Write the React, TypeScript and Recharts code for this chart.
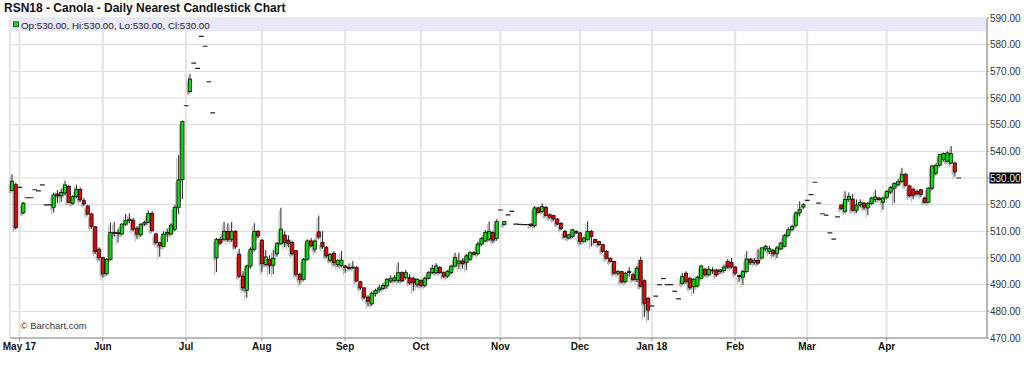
import React from 'react';
import { ComposedChart, Bar, XAxis, YAxis, CartesianGrid, ReferenceArea } from 'recharts';

const FONT = '"Liberation Sans", Arial, Helvetica, sans-serif';
const GREEN = '#00e400';
const RED = '#ee0000';

// Daily candles (trading-day slots), Apr 27 2017 .. Apr 27 2018
const opens = [
  525.3,527.5,526.5,516.9,522.6,522.6,525.6,525.2,527.4,519.9,
  519.9,519.0,524.0,523.3,524.4,526.8,520.5,523.0,525.7,521.5,
  519.5,516.5,511.7,503.3,500.1,494.1,499.5,509.6,509.2,509.0,
  512.7,514.0,514.2,511.1,508.7,512.7,513.3,516.7,509.0,505.8,
  504.3,509.0,509.0,510.8,519.0,529.4,557.1,562.4,573.1,571.1,
  583.1,579.4,566.1,554.4,500.1,507.0,507.0,510.0,507.0,510.0,
  501.4,493.2,487.9,497.0,503.3,510.0,506.7,497.6,499.5,497.3,
  501.6,505.4,508.6,506.7,505.8,502.7,493.9,492.0,499.5,506.4,
  503.3,509.8,505.8,503.9,499.2,501.8,497.6,497.2,497.0,496.5,
  496.2,496.4,491.1,488.8,485.3,482.8,486.7,488.1,488.6,489.5,
  491.4,491.6,491.6,494.5,492.6,492.6,492.4,490.1,491.6,489.7,
  492.4,494.5,494.5,496.4,494.5,493.2,494.5,497.0,497.9,498.9,
  498.3,499.5,502.0,501.6,505.2,506.4,507.1,509.6,507.3,518.0,
  512.5,516.2,517.5,512.7,512.6,512.5,512.5,512.7,512.1,518.8,
  517.5,519.0,516.2,515.9,514.6,513.0,510.0,507.5,508.1,510.0,
  509.4,506.2,506.9,510.0,506.9,506.2,505.0,502.5,499.9,498.7,
  494.3,494.9,491.1,494.9,493.7,492.0,499.1,491.5,484.9,482.0,
  485.7,490.0,492.3,490.0,490.0,487.5,484.7,490.5,494.3,492.4,
  489.3,489.5,492.4,495.8,493.7,495.5,495.5,494.9,495.3,498.7,
  498.3,496.6,493.4,492.8,494.9,499.6,498.3,499.1,500.0,503.4,
  502.5,502.9,501.6,503.4,504.4,508.4,510.6,512.3,516.9,519.1,
  521.6,523.8,528.4,520.6,516.6,516.1,509.4,507.1,515.4,519.9,
  517.5,521.9,522.1,517.9,519.9,520.6,518.8,520.4,521.9,522.5,
  520.9,522.7,524.7,526.2,527.4,528.6,531.4,527.0,525.8,525.0,
  525.6,522.5,520.9,526.2,531.8,534.8,537.0,536.3,535.6,535.6,
  530.0,
];

const highs = [
  531.3,528.3,526.5,521.0,522.6,522.6,525.6,525.2,527.4,519.9,
  519.9,524.6,525.5,526.0,529.0,527.5,523.5,527.5,526.5,522.5,
  520.0,517.0,512.0,504.0,500.5,500.0,513.3,513.5,511.0,513.0,
  516.5,516.8,515.0,512.0,513.0,514.0,517.8,517.5,509.5,506.0,
  510.0,511.0,513.0,520.0,538.5,551.6,557.1,569.0,573.1,571.1,
  583.1,579.4,566.1,554.4,507.5,508.0,513.6,513.0,513.5,510.5,
  503.5,495.0,497.5,504.0,513.0,510.5,507.0,503.0,501.0,503.0,
  506.0,518.8,510.0,508.5,506.5,503.0,494.5,500.0,507.0,507.5,
  507.0,515.9,510.0,504.5,502.0,502.5,499.5,502.6,497.5,498.0,
  498.9,497.0,491.5,489.0,486.0,487.5,488.5,490.0,490.5,492.5,
  493.5,493.5,498.3,495.0,495.5,494.0,493.0,492.5,492.0,493.0,
  495.0,497.5,498.0,497.0,495.0,495.5,497.5,502.0,502.0,500.0,
  501.5,502.5,502.5,506.0,508.0,510.5,513.7,510.0,514.5,518.0,
  513.9,516.2,517.5,512.7,512.6,512.5,512.5,512.9,519.5,519.2,
  520.5,519.5,516.8,516.2,515.0,513.5,510.5,509.0,511.0,510.4,
  509.8,508.0,513.8,510.5,507.3,506.5,505.3,503.0,500.3,499.0,
  495.5,495.2,494.8,496.5,494.5,497.0,500.5,492.0,485.5,482.0,
  485.7,490.0,492.3,490.0,490.0,487.5,484.7,494.5,495.0,493.0,
  492.5,493.3,497.5,496.3,497.0,496.5,496.0,496.0,497.5,499.5,
  500.0,497.0,493.6,495.5,502.5,500.0,500.0,503.5,504.0,505.0,
  504.5,503.5,504.5,506.0,509.0,511.5,512.5,517.5,521.3,520.5,
  521.6,523.8,528.4,520.6,516.6,516.1,509.4,507.1,515.4,520.0,
  525.0,524.6,524.0,521.9,522.0,521.0,521.0,523.0,525.6,523.0,
  523.0,525.5,527.0,528.5,529.5,533.8,532.0,527.5,526.3,525.6,
  526.0,523.0,526.5,535.0,535.5,539.0,539.6,540.0,542.0,536.0,
  530.0,
];

const lows = [
  525.0,510.8,526.5,516.5,522.6,522.6,525.6,525.2,527.4,519.9,
  519.9,517.1,520.5,521.0,523.5,520.5,520.0,522.5,521.0,519.5,
  516.0,511.0,501.5,499.0,492.6,493.5,499.0,508.0,505.8,508.5,
  512.0,513.0,510.0,507.0,508.0,512.0,513.0,510.0,505.0,500.5,
  504.0,506.0,508.5,510.0,516.5,522.0,557.1,562.0,573.1,571.1,
  583.1,579.4,566.1,554.4,494.7,505.0,506.5,506.0,506.0,503.5,
  492.5,487.5,485.1,496.0,502.5,507.5,494.7,497.0,494.0,494.0,
  500.5,505.0,504.0,504.0,501.0,493.0,490.1,491.5,499.0,504.0,
  502.0,507.0,503.5,500.0,498.5,497.0,496.5,496.5,494.5,495.5,
  495.8,491.0,488.0,484.5,481.9,482.0,485.5,487.0,488.0,488.5,
  490.5,491.0,490.7,491.0,492.0,490.0,487.6,489.0,489.0,489.0,
  492.0,494.0,494.0,494.0,492.5,492.5,494.0,496.5,495.8,496.0,
  495.5,499.0,501.0,501.0,504.5,506.0,506.5,505.5,506.5,518.0,
  512.3,516.2,517.5,512.7,512.6,512.5,512.5,511.8,511.5,516.8,
  517.0,515.5,514.8,514.0,512.3,510.5,507.5,507.0,507.5,509.0,
  505.0,505.8,506.5,504.3,505.5,504.5,502.0,499.5,498.2,493.8,
  493.5,490.5,490.5,493.0,491.5,491.0,489.0,478.0,476.7,482.0,
  485.7,490.0,492.3,490.0,490.0,487.5,484.7,490.0,490.5,488.0,
  486.7,489.0,492.0,493.2,493.2,494.0,493.0,494.0,494.5,496.0,
  496.0,493.5,491.0,490.0,494.5,497.5,497.5,497.5,499.5,502.5,
  501.5,500.5,500.0,503.0,504.0,508.0,510.0,511.5,515.6,518.5,
  521.6,523.8,528.4,520.6,516.6,516.1,509.4,507.1,515.4,518.0,
  517.0,521.0,517.5,516.9,519.0,518.0,516.0,520.0,521.0,521.5,
  518.1,522.0,524.0,520.6,527.0,528.3,526.8,522.8,522.0,523.5,
  523.0,520.5,520.5,525.5,531.0,534.2,536.2,535.8,535.2,530.5,
  530.0,
];

const closes = [
  528.8,511.4,526.5,520.6,522.6,522.6,525.6,525.2,527.4,519.9,
  519.9,523.7,523.3,524.6,527.4,520.9,523.0,525.8,521.8,520.3,
  516.5,511.8,502.4,500.1,494.1,499.5,509.6,509.2,509.5,512.7,
  514.0,514.6,510.8,509.0,512.7,513.3,516.7,510.2,505.8,504.6,
  509.0,509.6,512.3,519.0,529.3,551.2,557.1,567.1,573.1,571.1,
  583.1,579.4,566.1,554.4,507.0,505.6,510.0,507.0,510.0,504.2,
  493.2,488.8,497.0,503.3,510.0,508.3,497.9,500.4,497.3,499.9,
  505.4,510.8,505.8,505.4,501.6,493.9,492.0,499.5,506.4,504.6,
  506.4,507.9,504.2,500.8,501.4,498.3,499.0,499.2,496.4,496.1,
  496.6,491.4,488.8,485.3,483.8,486.8,487.9,488.8,489.7,492.0,
  492.3,492.6,494.5,491.4,494.5,490.7,490.7,492.0,489.7,492.4,
  494.5,496.1,497.0,494.5,493.2,495.0,497.0,500.1,498.9,497.9,
  500.8,502.0,501.4,505.2,507.3,509.6,510.0,506.7,513.7,518.0,
  513.7,516.2,517.5,512.7,512.6,512.5,512.5,512.1,518.8,517.1,
  519.25,515.9,515.2,514.6,512.7,511.0,507.9,508.7,510.6,509.4,
  506.2,507.5,510.0,508.1,505.9,505.0,502.5,499.9,498.7,494.3,
  494.9,491.1,494.3,494.8,492.0,496.2,489.3,483.0,480.5,482.0,
  485.7,490.0,492.3,490.0,490.0,487.5,484.7,493.0,491.1,489.0,
  492.0,492.8,497.0,493.7,495.8,495.2,493.7,495.5,496.6,496.6,
  496.6,494.3,493.2,494.9,499.6,498.3,499.1,498.1,503.8,504.4,
  503.5,501.6,503.8,505.6,508.4,510.6,511.9,516.9,518.1,520.0,
  521.6,523.8,528.4,520.6,516.6,516.1,509.4,507.1,515.4,518.6,
  521.9,523.1,517.9,519.9,520.9,519.1,520.4,522.5,522.9,521.9,
  522.5,524.9,526.4,528.0,528.6,531.4,527.2,523.4,523.6,524.1,
  523.8,520.9,526.2,534.5,534.7,538.9,539.2,539.4,539.1,532.3,
  530.0,
];

// x axis: slot index of first trading day of each month, and its label
const monthTickIndex = [2, 24, 46, 66, 88, 108, 129, 150, 169, 191, 210, 231];
const monthTickLabels = ['May 17', 'Jun', 'Jul', 'Aug', 'Sep', 'Oct', 'Nov', 'Dec', 'Jan 18', 'Feb', 'Mar', 'Apr'];
const priceTicks = [470, 480, 490, 500, 510, 520, 530, 540, 550, 560, 570, 580, 590];
const SLOT_COUNT = 258;

const chartData = Array.from({ length: SLOT_COUNT }, (_, i) => {
  if (i >= closes.length) return { i };
  const high = highs[i];
  const low = lows[i];
  return {
    i,
    open: opens[i],
    high,
    low,
    close: closes[i],
    range: [low, high > low ? high : high + 0.05],
  };
});

const geom = (props: any) => {
  const { x, y, width, height, payload } = props;
  if (!payload || payload.close == null || !payload.range) return null;
  const [rl, rh] = payload.range;
  const top = Math.min(y, y + height);
  const h = Math.abs(height);
  const py = (v: number) => top + ((rh - v) / (rh - rl)) * h;
  return { cx: x + width / 2, py, p: payload };
};

const BODY_W = 3.2;
const SH_DX = -1.8;
const SH_DY = 2.5;

const ShadowShape = (props: any) => {
  const g = geom(props);
  if (!g) return null;
  const { cx, py, p } = g;
  if (p.high === p.low) return null;
  const bt = py(Math.max(p.open, p.close));
  const bb = py(Math.min(p.open, p.close));
  return (
    <g>
      <line x1={cx + SH_DX} x2={cx + SH_DX} y1={py(p.high) + SH_DY} y2={py(p.low) + SH_DY} stroke="#b4b4b4" strokeWidth={1} />
      <rect x={cx - BODY_W / 2 + SH_DX} y={bt + SH_DY} width={BODY_W} height={Math.max(bb - bt, 1)} fill="#b4b4b4" />
    </g>
  );
};

const CandleShape = (props: any) => {
  const g = geom(props);
  if (!g) return null;
  const { cx, py, p } = g;
  if (p.high === p.low) {
    const yy = py(p.close);
    return <line x1={cx - 2.4} x2={cx + 2.4} y1={yy} y2={yy} stroke="#222" strokeWidth={1.2} />;
  }
  const up = p.close >= p.open;
  const bt = py(Math.max(p.open, p.close));
  const bb = py(Math.min(p.open, p.close));
  return (
    <g>
      <line x1={cx} x2={cx} y1={py(p.high)} y2={py(p.low)} stroke="#333" strokeWidth={1.1} />
      <rect x={cx - BODY_W / 2} y={bt} width={BODY_W} height={Math.max(bb - bt, 1)} fill={up ? GREEN : RED} stroke="#111" strokeWidth={0.8} />
    </g>
  );
};

const lastClose = closes[closes.length - 1];

const PriceTick = (props: any) => {
  const { x, y, payload } = props;
  const v = payload.value as number;
  const isLast = v === lastClose;
  return (
    <g>
      {isLast && <rect x={x - 0.5} y={y - 5.5} width={31.5} height={11} fill="#000" />}
      <text x={x} y={y} dy="0.36em" fontSize={10} fontFamily={FONT} fill={isLast ? '#e0f4ff' : '#333'}>
        {v.toFixed(2)}
      </text>
    </g>
  );
};

export default function App() {
  return (
    <div style={{ position: 'absolute', left: 0, top: 0, width: 1024, height: 375, background: '#fff', fontFamily: FONT }}>
      <ComposedChart
        width={1024}
        height={375}
        data={chartData}
        margin={{ top: 18, right: 0, bottom: 0, left: 10 }}
        barCategoryGap={0}
      >
        <CartesianGrid horizontal vertical={false} stroke="#dadada" />
        <CartesianGrid horizontal={false} vertical stroke="#e4e4e4" strokeWidth={2} />
        <ReferenceArea y1={585} y2={590} fill="#e8e8f8" fillOpacity={1} strokeOpacity={0} />
        <XAxis
          dataKey="i"
          type="category"
          ticks={monthTickIndex}
          interval={0}
          tickFormatter={(v: any) => monthTickLabels[monthTickIndex.indexOf(Number(v))] ?? ''}
          height={37}
          axisLine={{ stroke: '#888' }}
          tickLine={{ stroke: '#888' }}
          tickSize={3}
          tick={{ fontSize: 10, fontWeight: 'bold', fill: '#111', fontFamily: FONT }}
        />
        <XAxis xAxisId="s" dataKey="i" type="category" hide />
        <YAxis
          orientation="right"
          type="number"
          domain={[470, 590]}
          ticks={priceTicks}
          interval={0}
          width={37}
          allowDataOverflow
          axisLine={{ stroke: '#888' }}
          tickLine={{ stroke: '#888' }}
          tickSize={2}
          tickMargin={1}
          tick={<PriceTick />}
        />
        <YAxis
          yAxisId="left"
          orientation="left"
          type="number"
          domain={[470, 590]}
          width={0}
          tick={false}
          tickLine={false}
          axisLine={{ stroke: '#999' }}
        />
        <Bar xAxisId="s" dataKey="range" shape={ShadowShape} isAnimationActive={false} />
        <Bar dataKey="range" shape={CandleShape} isAnimationActive={false} />
      </ComposedChart>
      <svg width={1024} height={375} style={{ position: 'absolute', left: 0, top: 0, pointerEvents: 'none' }}>
        <text x={4} y={11.5} fontSize={12} fontWeight="bold" fill="#111" fontFamily={FONT}>
          RSN18 - Canola - Daily Nearest Candlestick Chart
        </text>
        <rect x={13.5} y={21.8} width={5} height={5} fill={GREEN} stroke="#333" strokeWidth={0.8} />
        <text x={21} y={28.5} fontSize={9.75} fill="#222" fontFamily={FONT}>
          Op:530.00, Hi:530.00, Lo:530.00, Cl:530.00
        </text>
        <text x={20.5} y={329.3} fontSize={9.5} fill="#333" fontFamily={FONT}>
          © Barchart.com
        </text>
      </svg>
    </div>
  );
}
